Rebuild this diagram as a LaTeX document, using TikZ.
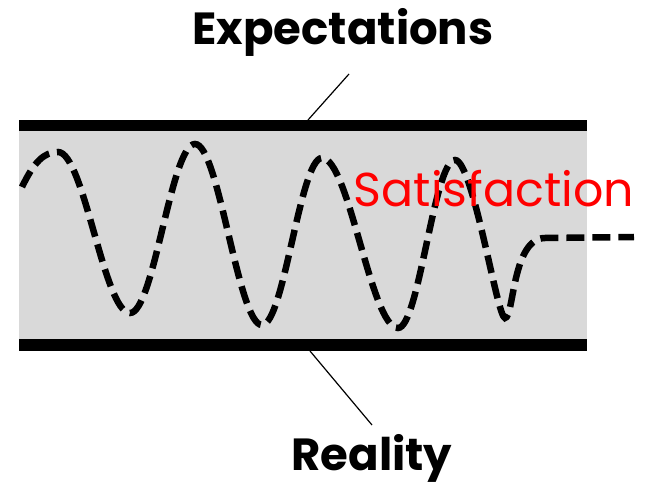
\documentclass[tikz,border=0pt]{standalone}
\usepackage{fontspec}
\setmainfont{Poppins}
\definecolor{bandgray}{HTML}{D9D9D9}
\tikzset{
    sat diagram/.style = {x=1pt, y=-1pt},
    band/.style        = {fill=bandgray},
    bar/.style         = {fill=black},
    wave/.style        = {line width=6.5pt, dash pattern=on 18pt off 8pt},
    leader/.style      = {line width=1.2pt},
    tag/.style         = {anchor=base, inner sep=0pt,
                          font=\fontsize{45}{54}\selectfont\bfseries},
    goal/.style        = {anchor=base, inner sep=0pt, text=red,
                          font=\fontsize{47.5}{56}\selectfont}
}

\begin{document}
\begin{tikzpicture}[sat diagram]
\useasboundingbox (0,0) rectangle (646,486);

% Band between the two limits
\fill[band] (19,131) rectangle (587,339);
\fill[bar] (19,120) rectangle (587,131);
\fill[bar] (19,339) rectangle (587,351);
\coordinate (top) at (308,120);
\coordinate (bot) at (310,351);

% Limit labels with leaders
\node[tag] (exp)  at (343,45)  {Expectations};
\node[tag] (real) at (372,471) {Reality};
\coordinate (expfoot)  at (349,74);
\coordinate (realhead) at (372,425);
\draw[leader] (expfoot) -- (top);
\draw[leader] (bot) -- (realhead);

% Oscillation that settles
\draw[wave] (22,187)
    .. controls +(12,-25) and +(-14,0) .. (58,152)
    .. controls +(26,0) and +(-26,0) .. (130,313)
    .. controls +(24,0) and +(-24,0) .. (195,144)
    .. controls +(24,0) and +(-24,0) .. (262,325)
    .. controls +(22,0) and +(-22,0) .. (322,158)
    .. controls +(27,0) and +(-27,0) .. (398,328)
    .. controls +(21,0) and +(-21,0) .. (455,160)
    .. controls +(18,0) and +(-8,0) .. (505,318)
    .. controls (514,318) and (512,238) .. (545,238)
    -- (634,237);

\node[goal] (sat) at (494,207) {Satisfaction};

\end{tikzpicture}
\end{document}
